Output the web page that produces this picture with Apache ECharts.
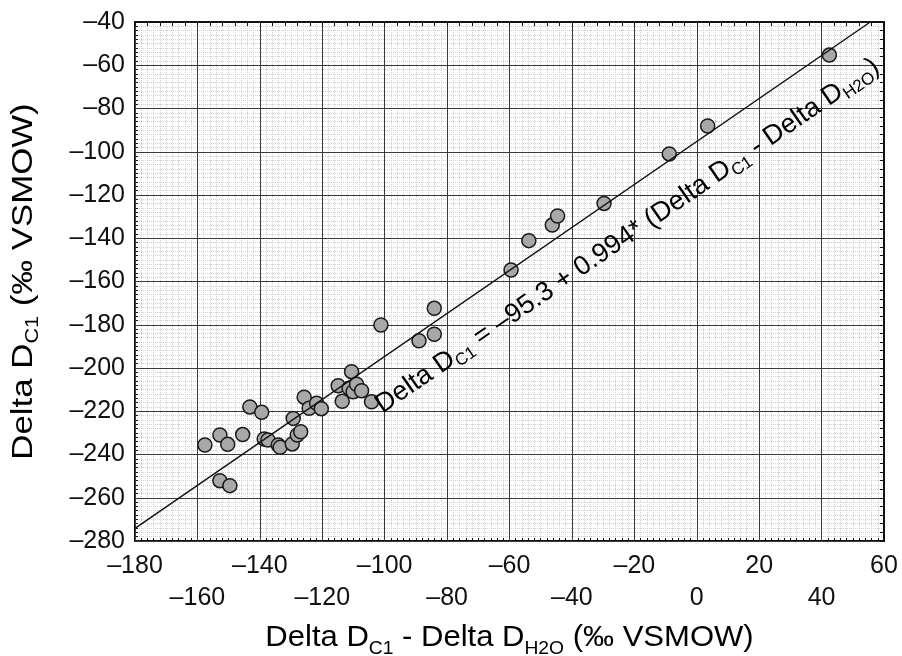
<!DOCTYPE html>
<html>
<head>
<meta charset="utf-8">
<title>Delta D C1 vs H2O</title>
<script src="https://cdn.jsdelivr.net/npm/echarts@6/dist/echarts.min.js"></script>
<style>
html,body{margin:0;padding:0;background:#fff;}
#main{width:902px;height:656px;}
</style>
</head>
<body>
<div id="main"></div>
<script>
// measured points: Delta D(C1) - Delta D(H2O)  vs  Delta D(C1), per mil VSMOW
var dDiff = [-157.6,-152.8,-150.3,-152.8,-149.6,-145.5,-143.2,-139.4,-138.6,-137.4,
	-134.1,-133.5,-129.6,-129.3,-128.0,-126.9,-125.8,-124.2,-121.8,-120.3,
	-114.9,-113.6,-110.6,-111.4,-110.1,-109.0,-107.4,-104.2,-101.2,-89.0,
	-84.1,-84.1,-59.5,-53.8,-46.3,-44.6,-29.7,-8.8,3.5,42.5];
var dC1 = [-235.6,-231.0,-235.3,-252.1,-254.4,-230.8,-218.0,-220.5,-232.8,-233.3,
	-235.6,-236.7,-235.1,-223.3,-231.0,-229.5,-213.5,-218.6,-216.3,-218.8,
	-208.2,-215.4,-201.7,-209.4,-211.0,-207.5,-210.5,-215.6,-180.1,-187.4,
	-184.4,-172.4,-154.7,-141.1,-133.9,-129.7,-123.9,-101.0,-88.1,-55.3];

// regression line ends (as drawn), and where the equation text starts
var fitX = [-180, 55.6];
var fitY = [-274.2, -40];
var eqAnchor = [-101.4, -219.6];

var xRange = [-180, 60];
var yRange = [-280, -40];
var step = 20;

var xTitle = '{n|Delta D}{s|C1}{n| - Delta D}{s|H2O}{n| (\u2030 VSMOW)}';
var yTitle = '{n|Delta D}{s|C1}{n| (\u2030 VSMOW)}';
var eqText = '{n|Delta D}{s|C1}{n| = \u201395.3 + 0.994* (Delta D}{s|C1}{n| - Delta D}{s|H2O}{n|)}';

var font = '"Liberation Sans", Arial, Helvetica, sans-serif';
var ink = '#111';

function dash(v){
	return v < 0 ? '\u2013' + (-v) : '' + v;
}
// n = normal text, s = subscript pushed down by padding
function richStyle(size, subSize, drop, lh){
	return {
		n:{fontSize:size, fontFamily:font, color:ink, lineHeight:lh, verticalAlign:'top'},
		s:{fontSize:subSize, fontFamily:font, color:ink, lineHeight:lh, verticalAlign:'top', padding:[drop,0,0,0]}
	};
}

var pts = [];
for (var i = 0; i < dDiff.length; i++) {
	pts.push([dDiff[i], dC1[i]]);
}

var edge = {show:true, onZero:false, lineStyle:{color:ink, width:2}};
var major = {show:true, lineStyle:{color:'#3a3a3a', width:1}};
var minor = {show:true, lineStyle:{color:'#d0d0d0', width:1, type:'dotted'}};

var chart = echarts.init(document.getElementById('main'));
var option = {
	animation:false,
	backgroundColor:'#fff',
	grid:{left:135, right:18, top:22, bottom:115, outerBoundsMode:'none'},
	xAxis:[{
		type:'value', min:xRange[0], max:xRange[1], interval:step, position:'bottom',
		axisLine:edge,
		axisTick:{show:true, inside:true, length:4, lineStyle:{color:ink}},
		minorTick:{show:true, splitNumber:10, length:3, lineStyle:{color:ink}},
		splitLine:{show:false},
		minorSplitLine:minor,
		axisLabel:{
			margin:9, fontSize:25, fontFamily:font, color:ink, lineHeight:32,
			formatter:function(v){
				var k = Math.round((v - xRange[0]) / step);
				return k % 2 == 1 ? '\n' + dash(v) : dash(v);
			}
		}
	},{
		// top frame + the solid major grid, drawn over the dotted one
		type:'value', min:xRange[0], max:xRange[1], interval:step, position:'top', z:1,
		axisLine:edge,
		axisTick:{show:true, inside:true, length:4, lineStyle:{color:ink}},
		minorTick:{show:true, splitNumber:5, length:4, lineStyle:{color:ink}},
		splitLine:major,
		axisLabel:{show:false}
	}],
	yAxis:[{
		type:'value', min:yRange[0], max:yRange[1], interval:step, position:'left',
		axisLine:edge,
		axisTick:{show:true, inside:true, length:4, lineStyle:{color:ink}},
		minorTick:{show:true, splitNumber:10, length:3, lineStyle:{color:ink}},
		splitLine:{show:false},
		minorSplitLine:minor,
		axisLabel:{margin:10, fontSize:25, fontFamily:font, color:ink, formatter:dash}
	},{
		type:'value', min:yRange[0], max:yRange[1], interval:step, position:'right', z:1,
		axisLine:edge,
		axisTick:{show:true, inside:true, length:4, lineStyle:{color:ink}},
		minorTick:{show:true, splitNumber:5, length:4, lineStyle:{color:ink}},
		splitLine:major,
		axisLabel:{show:false}
	}],
	series:[{
		type:'scatter',
		data:pts,
		symbolSize:14,
		itemStyle:{color:'#a8a8a8', borderColor:'#1a1a1a', borderWidth:1.5, opacity:1},
		z:3
	},{
		type:'line',
		data:[[fitX[0], fitY[0]], [fitX[1], fitY[1]]],
		symbol:'none',
		lineStyle:{color:ink, width:1.5},
		silent:true,
		z:4
	}]
};
chart.setOption(option);

// axis titles and the equation are placed from the grid's own pixel frame
var p0 = chart.convertToPixel({seriesIndex:1}, [fitX[0], fitY[0]]);
var p1 = chart.convertToPixel({seriesIndex:1}, [fitX[1], fitY[1]]);
var ang = Math.atan2(p0[1] - p1[1], p1[0] - p0[0]);
var pa = chart.convertToPixel({seriesIndex:1}, eqAnchor);
var corner = chart.convertToPixel({seriesIndex:1}, [xRange[0], yRange[0]]);
var mid = chart.convertToPixel({seriesIndex:1}, [(xRange[0] + xRange[1]) / 2, (yRange[0] + yRange[1]) / 2]);

chart.setOption({
	graphic:[{
		type:'text',
		x:pa[0], y:pa[1],
		rotation:ang,
		z:10,
		style:{text:eqText, rich:richStyle(27, 17, 13, 34), align:'left', verticalAlign:'middle'}
	},{
		// the original titles are set a little wider than plain Arial
		type:'text',
		x:mid[0], y:corner[1] + 100,
		scaleX:1.07,
		style:{text:xTitle, rich:richStyle(29, 18, 17, 36), align:'center', verticalAlign:'middle'}
	},{
		type:'text',
		x:corner[0] - 108, y:mid[1],
		rotation:Math.PI / 2,
		scaleX:1.2,
		style:{text:yTitle, rich:richStyle(29, 18, 15, 36), align:'center', verticalAlign:'middle'}
	}]
});
window.onresize = chart.resize;
</script>
</body>
</html>
